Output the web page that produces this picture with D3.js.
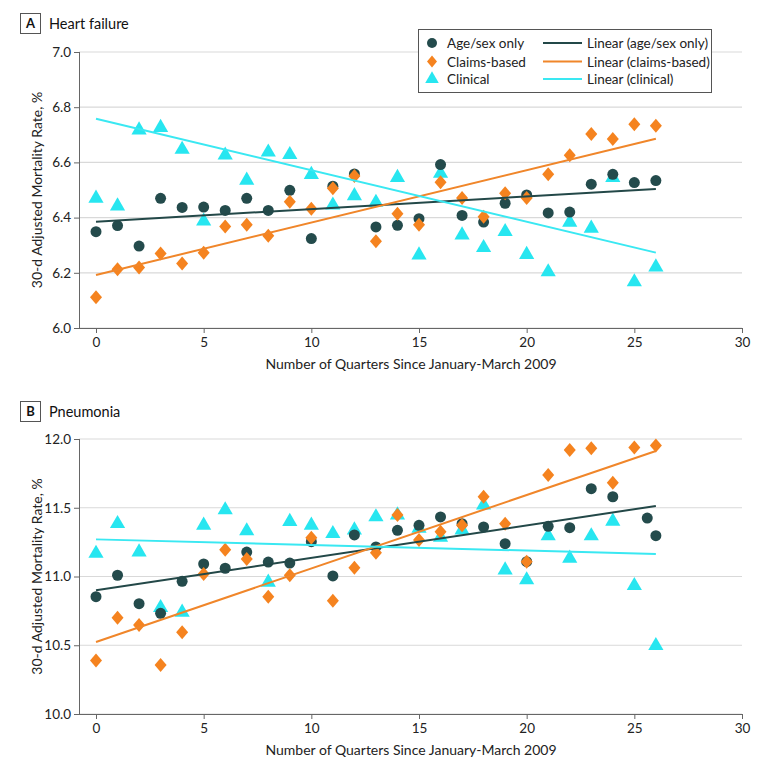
<!DOCTYPE html>
<html><head><meta charset="utf-8">
<script src="https://cdn.jsdelivr.net/npm/d3@7"></script>
<style>body{margin:0;background:#fff}svg{font-family:Lato,sans-serif}</style>
</head><body><svg id="c" width="780" height="769"></svg>
<script>
const quarters = d3.range(0, 27);
const xTicks = [0, 5, 10, 15, 20, 25, 30];
// Panel A: Heart failure
const hfAgeSex = [6.349,6.371,6.297,6.470,6.437,6.438,6.426,6.470,6.426,6.499,6.324,6.514,6.558,6.366,6.372,6.396,6.592,6.408,6.384,6.452,6.482,6.417,6.420,6.521,6.557,6.527,6.534];
const hfClaims = [6.111,6.213,6.219,6.270,6.234,6.273,6.368,6.374,6.334,6.457,6.432,6.506,6.551,6.314,6.414,6.374,6.528,6.471,6.403,6.488,6.471,6.557,6.626,6.703,6.685,6.738,6.733];
const hfClinical = [6.470,6.442,6.717,6.726,6.647,6.387,6.626,6.535,6.637,6.628,6.556,6.445,6.479,6.455,6.545,6.264,6.560,6.337,6.291,6.349,6.266,6.203,6.383,6.361,6.545,6.167,6.221];
const hfTrendAgeSex = [6.385, 6.504];
const hfTrendClaims = [6.192, 6.686];
const hfTrendClinical = [6.758, 6.273];
const hfYTicks = [6.0, 6.2, 6.4, 6.6, 6.8, 7.0];
// Panel B: Pneumonia
const pnAgeSexX = [0,1,2,3,4,5,6,7,8,9,10,11,12,13,14,15,16,17,18,19,20,21,22,23,24,25.6,26];
const pnAgeSex = [10.853,11.009,10.802,10.732,10.965,11.091,11.060,11.178,11.105,11.098,11.253,11.004,11.302,11.215,11.336,11.372,11.433,11.384,11.360,11.239,11.108,11.365,11.355,11.639,11.580,11.425,11.297];
const pnClaims = [10.390,10.700,10.647,10.356,10.594,11.018,11.195,11.127,10.853,11.009,11.282,10.824,11.064,11.173,11.447,11.265,11.326,11.372,11.580,11.384,11.108,11.738,11.920,11.932,11.682,11.939,11.952];
const pnClinical = [11.168,11.384,11.178,10.773,10.739,11.372,11.484,11.331,10.958,11.399,11.372,11.311,11.338,11.433,11.447,11.350,11.285,11.338,11.520,11.047,10.975,11.295,11.132,11.295,11.401,10.933,10.497];
const pnTrendAgeSex = [10.900, 11.513];
const pnTrendClaims = [10.524, 11.913];
const pnTrendClinical = [11.270, 11.164];
const pnYTicks = [10.0, 10.5, 11.0, 11.5, 12.0];
const trendX = [0, 26];

const colDark = "#244b4c", colOrange = "#f5831f", colCyan = "#27e6f0";
const lineDark = "#234848", lineOrange = "#f0862a", lineCyan = "#3ae8f2";
const svg = d3.select("#c");
const textCol = "#222";
const FS = 13.5;

function diamondPath(w, h){ return `M0,${-h}L${w},0L0,${h}L${-w},0Z`; }

function panel(o){
  const g = svg.append("g");
  const x = d3.scaleLinear().domain([0,30]).range([96,742]);
  const y = d3.scaleLinear().domain(o.yDomain).range([o.bottom,o.top]);
  // header
  g.append("rect").attr("x",20.5).attr("y",o.hdrY+0.5).attr("width",20).attr("height",20).attr("fill","#fff").attr("stroke","#555");
  g.append("text").attr("x",30.5).attr("y",o.hdrY+15).attr("text-anchor","middle").attr("font-weight","bold").attr("font-size",13).attr("fill","#111").text(o.letter);
  g.append("text").attr("x",49).attr("y",o.hdrY+15.5).attr("font-size",14.5).attr("fill","#111").text(o.title);
  // grid
  g.selectAll(".grid").data(o.yTicks).join("line")
    .attr("x1",79).attr("x2",742).attr("y1",d=>y(d)).attr("y2",d=>y(d))
    .attr("stroke","#d9d9d9").attr("stroke-width",1.2);
  // axes
  const ya = d3.axisLeft(y).tickValues(o.yTicks).tickFormat(d3.format(".1f")).tickSize(5).tickSizeOuter(0);
  const ag = g.append("g").attr("transform","translate(79,0)").call(ya);
  ag.select(".domain").attr("stroke","#666").attr("d",`M0.5,${o.top}V${o.bottom}`);
  ag.selectAll(".tick line").attr("stroke","#666");
  ag.selectAll("text").attr("font-size",FS).attr("fill",textCol).attr("font-family","Lato,sans-serif").attr("x",-8);
  const xa = d3.axisBottom(x).tickValues(xTicks).tickSize(5).tickSizeOuter(0);
  const xg = g.append("g").attr("transform",`translate(0,${o.bottom})`).call(xa);
  xg.select(".domain").attr("stroke","#666").attr("d","M79,0.5H742");
  xg.selectAll(".tick line").attr("stroke","#666");
  xg.selectAll("text").attr("font-size",FS).attr("fill",textCol).attr("font-family","Lato,sans-serif").attr("y",19).attr("dy",0);
  // labels
  g.append("text").attr("x",411).attr("y",o.bottom+41).attr("text-anchor","middle").attr("font-size",14).attr("fill",textCol).text("Number of Quarters Since January-March 2009");
  g.append("text").attr("transform",`translate(42,${(o.top+o.bottom)/2}) rotate(-90)`).attr("text-anchor","middle").attr("font-size",14).attr("fill",textCol).text("30-d Adjusted Mortality Rate, %");
  // points
  const tri = d3.symbol().type(d3.symbolTriangle).size(100);
  g.append("g").selectAll("path").data(o.clinical).join("path")
    .attr("d",tri).attr("transform",(d,i)=>`translate(${x(quarters[i])},${y(d)})`).attr("fill",colCyan);
  g.append("g").selectAll("circle").data(o.ageSex).join("circle")
    .attr("cx",(d,i)=>x(o.ageSexX[i])).attr("cy",d=>y(d)).attr("r",5.5).attr("fill",colDark);
  g.append("g").selectAll("path").data(o.claims).join("path")
    .attr("d",diamondPath(6,7)).attr("transform",(d,i)=>`translate(${x(quarters[i])},${y(d)})`).attr("fill",colOrange);
  // trends
  const line = d3.line().x((d,i)=>x(trendX[i])).y(d=>y(d));
  [[o.tA,lineDark],[o.tC,lineOrange],[o.tK,lineCyan]].forEach(([d,c])=>{
    g.append("path").attr("d",line(d)).attr("stroke",c).attr("stroke-width",2).attr("fill","none");
  });
  return {x,y};
}

panel({letter:"A",title:"Heart failure",hdrY:13,top:52,bottom:328,yDomain:[6.0,7.0],yTicks:hfYTicks,
  ageSex:hfAgeSex,ageSexX:quarters,claims:hfClaims,clinical:hfClinical,tA:hfTrendAgeSex,tC:hfTrendClaims,tK:hfTrendClinical});
panel({letter:"B",title:"Pneumonia",hdrY:401,top:439,bottom:714,yDomain:[10.0,12.0],yTicks:pnYTicks,
  ageSex:pnAgeSex,ageSexX:pnAgeSexX,claims:pnClaims,clinical:pnClinical,tA:pnTrendAgeSex,tC:pnTrendClaims,tK:pnTrendClinical});

// legend
const lg = svg.append("g");
lg.append("rect").attr("x",418.5).attr("y",29.5).attr("width",293).attr("height",63).attr("fill","#fff").attr("stroke","#555");
const legPts = [
  {label:"Age/sex only", sym:"circle", c:colDark},
  {label:"Claims-based", sym:"diamond", c:colOrange},
  {label:"Clinical", sym:"triangle", c:colCyan}];
const legLines = [
  {label:"Linear (age/sex only)", c:lineDark},
  {label:"Linear (claims-based)", c:lineOrange},
  {label:"Linear (clinical)", c:lineCyan}];
const rowY = [43, 61.5, 79];
legPts.forEach((d,i)=>{
  const t = `translate(432,${rowY[i]})`;
  if(d.sym==="circle") lg.append("circle").attr("cx",432).attr("cy",rowY[i]).attr("r",5).attr("fill",d.c);
  else if(d.sym==="diamond") lg.append("path").attr("d",diamondPath(5,6)).attr("transform",t).attr("fill",d.c);
  else lg.append("path").attr("d",d3.symbol().type(d3.symbolTriangle).size(80)()).attr("transform",t).attr("fill",d.c);
  lg.append("text").attr("x",447).attr("y",rowY[i]+5).attr("font-size",FS).attr("fill",textCol).text(d.label);
});
legLines.forEach((d,i)=>{
  lg.append("line").attr("x1",543).attr("x2",582).attr("y1",rowY[i]).attr("y2",rowY[i]).attr("stroke",d.c).attr("stroke-width",2);
  lg.append("text").attr("x",587).attr("y",rowY[i]+5).attr("font-size",FS).attr("fill",textCol).text(d.label);
});
</script></body></html>
